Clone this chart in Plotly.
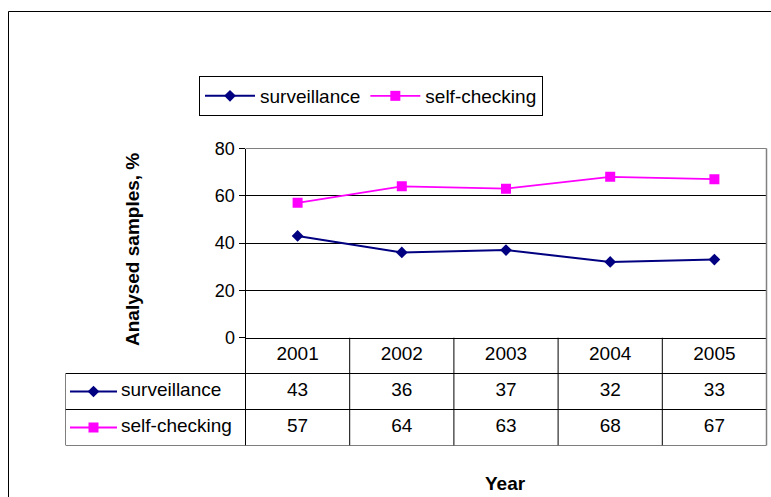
import plotly.graph_objects as go

# ---- data -------------------------------------------------------------
years = ["2001", "2002", "2003", "2004", "2005"]
surveillance = [43, 36, 37, 32, 33]
self_checking = [57, 64, 63, 68, 67]
series_names = ["surveillance", "self-checking"]
y_ticks = [0, 20, 40, 60, 80]

# ---- canvas geometry (pixels) ------------------------------------------
W, H = 771, 497
PLOT_L, PLOT_R, PLOT_T, PLOT_B = 245.5, 766.5, 148.5, 337.5
TABLE_L, TABLE_B = 65.5, 445.5
FONT = "Liberation Sans, Arial, sans-serif"
TXT = 19
NAVY = "#000080"
MAGENTA = "#FF00FF"
GRAY = "#808080"


def px(x):
    return x / W


def py(y):
    return 1 - y / H


n = len(years)
col_w = (PLOT_R - PLOT_L) / n
label_cols = (PLOT_L - TABLE_L) / col_w
x2_left = -0.5 - label_cols


def u(p):
    """pixel x -> data-table axis units"""
    return x2_left + (p - TABLE_L) / col_w


fig = go.Figure()

# ---- chart lines ---------------------------------------------------------
styles = [
    dict(color=NAVY, symbol="diamond", size=9, width=2),
    dict(color=MAGENTA, symbol="square", size=10, width=1.8),
]
for name, vals, st in zip(series_names, [surveillance, self_checking], styles):
    fig.add_trace(go.Scatter(
        x=years, y=vals, name=name, mode="lines+markers",
        line=dict(color=st["color"], width=st["width"]),
        marker=dict(symbol=st["symbol"], size=st["size"], color=st["color"]),
        xaxis="x", yaxis="y",
    ))

# ---- data table: legend keys in the row-label column ---------------------
for i, st in enumerate(styles):
    row_y = 1.5 + i
    fig.add_trace(go.Scatter(
        x=[u(70), u(93.5), u(117)], y=[row_y] * 3, mode="lines",
        line=dict(color=st["color"], width=st["width"]),
        showlegend=False, hoverinfo="skip", xaxis="x2", yaxis="y2",
    ))
    fig.add_trace(go.Scatter(
        x=[u(93.5)], y=[row_y], mode="markers",
        marker=dict(symbol=st["symbol"], size=st["size"], color=st["color"]),
        showlegend=False, hoverinfo="skip", xaxis="x2", yaxis="y2",
    ))
    fig.add_trace(go.Scatter(
        x=[u(121)], y=[row_y], mode="text", text=[series_names[i]],
        textposition="middle right",
        textfont=dict(family=FONT, size=TXT, color="black"),
        showlegend=False, hoverinfo="skip", xaxis="x2", yaxis="y2",
    ))

# header row (years) and value rows
fig.add_trace(go.Scatter(
    x=list(range(n)), y=[0.5] * n, mode="text", text=years,
    textfont=dict(family=FONT, size=TXT, color="black"),
    showlegend=False, hoverinfo="skip", xaxis="x2", yaxis="y2",
))
for i, vals in enumerate([surveillance, self_checking]):
    fig.add_trace(go.Scatter(
        x=list(range(n)), y=[1.5 + i] * n, mode="text",
        text=[str(v) for v in vals],
        textfont=dict(family=FONT, size=TXT, color="black"),
        showlegend=False, hoverinfo="skip", xaxis="x2", yaxis="y2",
    ))

# ---- table grid lines ------------------------------------------------------
shapes = []
line_k = dict(color="black", width=1)
for r in [1, 2, 3]:
    shapes.append(dict(type="line", xref="x2", yref="y2",
                       x0=x2_left, x1=n - 0.5, y0=r, y1=r, line=line_k))
for c in range(n):
    shapes.append(dict(type="line", xref="x2", yref="y2",
                       x0=c - 0.5, x1=c - 0.5, y0=0, y1=3, line=line_k))
shapes.append(dict(type="line", xref="x2", yref="y2",
                   x0=x2_left, x1=x2_left, y0=1, y1=3, line=line_k))
# plot-area border (top and right), right edge continues down the table
shapes.append(dict(type="line", xref="paper", yref="paper",
                   x0=px(PLOT_L), x1=px(PLOT_R), y0=py(PLOT_T), y1=py(PLOT_T),
                   line=dict(color=GRAY, width=1)))
shapes.append(dict(type="line", xref="paper", yref="paper",
                   x0=px(PLOT_R), x1=px(PLOT_R), y0=py(PLOT_T), y1=py(TABLE_B),
                   line=dict(color=GRAY, width=1.5)))
# chart-area frame (runs off the right and bottom edges)
shapes.append(dict(type="line", xref="paper", yref="paper",
                   x0=px(8.5), x1=1, y0=py(11.5), y1=py(11.5),
                   line=dict(color="black", width=1)))
shapes.append(dict(type="line", xref="paper", yref="paper",
                   x0=px(8.5), x1=px(8.5), y0=0, y1=py(11.5),
                   line=dict(color="black", width=1)))

fig.update_layout(
    width=W, height=H,
    margin=dict(l=0, r=0, t=0, b=0, pad=0, autoexpand=False),
    paper_bgcolor="white", plot_bgcolor="white",
    font=dict(family=FONT, size=TXT, color="black"),
    showlegend=True,
    legend=dict(
        orientation="h", x=px(199), y=py(76), xanchor="left", yanchor="top",
        bordercolor="black", borderwidth=1, bgcolor="white",
        itemwidth=50, tracegroupgap=0,
        font=dict(family=FONT, size=TXT, color="black"),
    ),
    xaxis=dict(
        domain=[px(PLOT_L), px(PLOT_R)], type="category", range=[-0.5, n - 0.5],
        showticklabels=False, ticks="", showgrid=False, zeroline=False,
        showline=True, linecolor="black", linewidth=1, anchor="y",
    ),
    yaxis=dict(
        domain=[py(PLOT_B), py(PLOT_T)], range=[0, 80], tickvals=y_ticks,
        ticks="outside", ticklen=6, tickcolor="black",
        showline=True, linecolor="black", linewidth=1,
        showgrid=True, gridcolor="black", gridwidth=1, zeroline=False,
        tickfont=dict(family=FONT, size=18, color="black"), anchor="x",
    ),
    xaxis2=dict(
        domain=[px(TABLE_L), px(PLOT_R)], range=[x2_left, n - 0.5],
        visible=False, anchor="y2",
    ),
    yaxis2=dict(
        domain=[py(TABLE_B), py(PLOT_B)], range=[3, 0],
        visible=False, anchor="x2",
    ),
    shapes=shapes,
    annotations=[
        dict(text="<b>Analysed samples, %</b>", x=px(133), y=py(250),
             xref="paper", yref="paper", textangle=-90, showarrow=False,
             xanchor="center", yanchor="middle",
             font=dict(family=FONT, size=TXT, color="black")),
        dict(text="<b>Year</b>", x=px(505), y=py(483),
             xref="paper", yref="paper", showarrow=False,
             xanchor="center", yanchor="middle",
             font=dict(family=FONT, size=TXT, color="black")),
    ],
)

fig.write_html("out.html")
